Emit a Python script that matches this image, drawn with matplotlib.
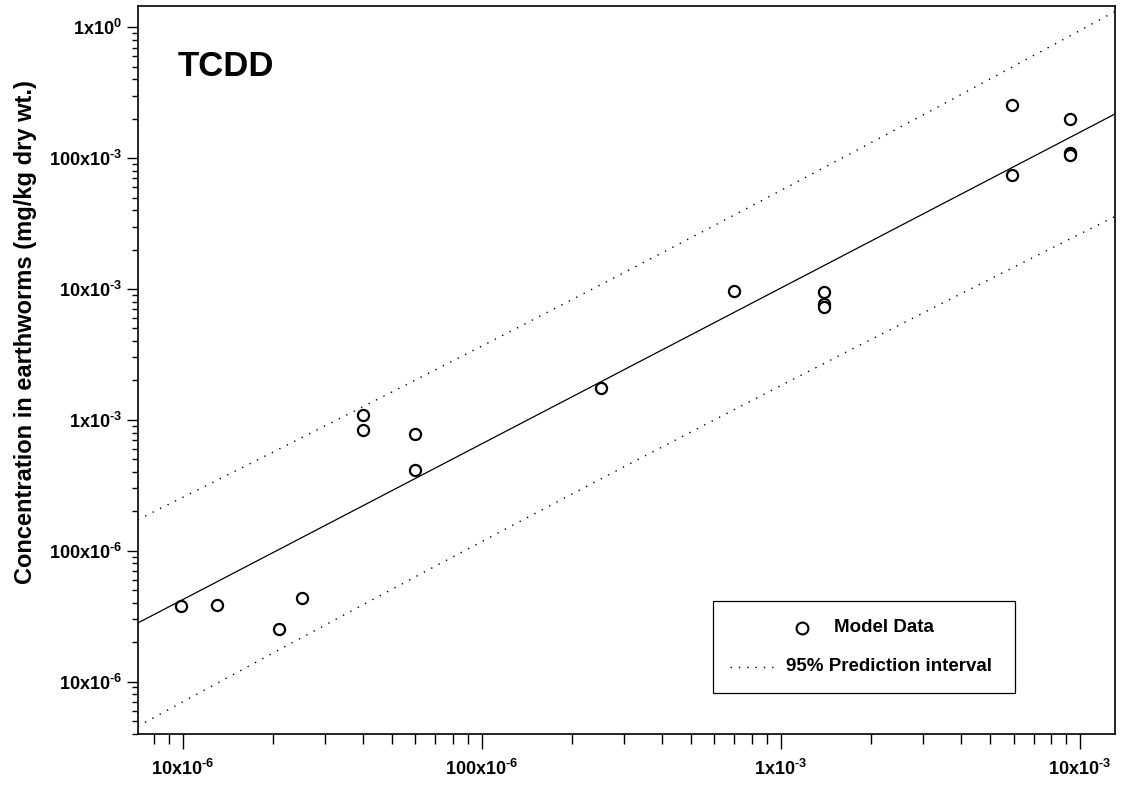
"""
TCDD: concentration in earthworms vs soil, log-log with regression and 95% prediction interval
"""
import numpy as np
import matplotlib
matplotlib.use("Agg")
import matplotlib.pyplot as plt
from matplotlib.patches import Rectangle
from matplotlib.lines import Line2D

# data (mg/kg dry wt.)
x_soil = [9.9e-6, 1.30e-5, 2.10e-5, 2.51e-5, 4.02e-5, 4.02e-5, 6.01e-5, 6.01e-5,
          2.51e-4, 7.0e-4, 1.40e-3, 1.40e-3, 1.40e-3, 5.91e-3, 5.91e-3,
          9.27e-3, 9.27e-3, 9.27e-3]
y_worm = [3.77e-5, 3.87e-5, 2.54e-5, 4.38e-5, 1.09e-3, 8.38e-4, 7.78e-4, 4.14e-4,
          1.74e-3, 9.73e-3, 9.45e-3, 7.69e-3, 7.26e-3, 0.253, 0.0748,
          0.1995, 0.110, 0.105]

x_ticks = [1e-5, 1e-4, 1e-3, 1e-2]
x_tick_labels = ["10x10$^{\\mathbf{\u20106}}$", "100x10$^{\\mathbf{\u20106}}$",
                 "1x10$^{\\mathbf{\u20103}}$", "10x10$^{\\mathbf{\u20103}}$"]
y_ticks = [1e-5, 1e-4, 1e-3, 1e-2, 1e-1, 1e0]
y_tick_labels = ["10x10$^{\\mathbf{\u20106}}$", "100x10$^{\\mathbf{\u20106}}$",
                 "1x10$^{\\mathbf{\u20103}}$", "10x10$^{\\mathbf{\u20103}}$",
                 "100x10$^{\\mathbf{\u20103}}$", "1x10$^{\\mathbf{0}}$"]

x_lim = (7.08e-6, 1.31e-2)
y_lim = (3.95e-6, 1.456)
# width multiplier of the prediction band (matched to the reference band)
pi_mult = 2.0

plt.rcParams['font.family'] = ['Liberation Sans', 'DejaVu Sans']
plt.rcParams['font.weight'] = 'bold'
plt.rcParams['mathtext.fontset'] = 'custom'
plt.rcParams['mathtext.rm'] = 'Liberation Sans:bold'
plt.rcParams['mathtext.bf'] = 'Liberation Sans:bold'


def fit_with_pi(x, y, xs):
    lx, ly = np.log10(x), np.log10(y)
    n = len(lx)
    b, a = np.polyfit(lx, ly, 1)
    resid = ly - (a + b * lx)
    s = np.sqrt(np.sum(resid ** 2) / (n - 2))
    sxx = np.sum((lx - lx.mean()) ** 2)
    lxs = np.log10(xs)
    yhat = a + b * lxs
    half = pi_mult * s * np.sqrt(1 + 1 / n + (lxs - lx.mean()) ** 2 / sxx)
    return 10 ** yhat, 10 ** (yhat - half), 10 ** (yhat + half)


fig = plt.figure(figsize=(11.21, 7.85), dpi=100)
ax = fig.add_axes([0.1228, 0.0646, 0.8718, 0.9278])

xs = np.logspace(np.log10(x_lim[0]), np.log10(x_lim[1]), 200)
yhat, lo, hi = fit_with_pi(np.array(x_soil), np.array(y_worm), xs)

ax.plot(xs, yhat, color='black', lw=0.9)
dots = (0, (1, 5))
ax.plot(xs, lo, color='black', lw=1.0, linestyle=dots)
ax.plot(xs, hi, color='black', lw=1.0, linestyle=dots)
ax.plot(x_soil, y_worm, 'o', ms=8, mfc='white', mec='black', mew=1.6, zorder=3)

ax.set_xscale('log')
ax.set_yscale('log')
ax.set_xlim(*x_lim)
ax.set_ylim(*y_lim)
ax.set_xticks(x_ticks)
ax.set_xticklabels(x_tick_labels)
ax.set_yticks(y_ticks)
ax.set_yticklabels(y_tick_labels)

ax.tick_params(axis='both', which='both', direction='out', width=1,
               top=False, right=False, labelsize=13)
ax.tick_params(axis='x', which='major', length=11, pad=7)
ax.tick_params(axis='x', which='minor', length=7)
ax.tick_params(axis='y', which='major', length=8, pad=3.5)
ax.tick_params(axis='y', which='minor', length=4.5)
for sp in ax.spines.values():
    sp.set_linewidth(1.2)

ax.set_ylabel('Concentration in earthworms (mg/kg dry wt.)', fontsize=17, fontweight='bold')
ax.yaxis.set_label_coords(-0.103, 0.5517)

ax.text(0.0412, 0.904, 'TCDD', transform=ax.transAxes, fontsize=25,
        fontweight='bold', va='baseline', ha='left')

# legend box
ax.add_patch(Rectangle((0.589, 0.0563), 0.3087, 0.1271, transform=ax.transAxes,
                       fill=False, edgecolor='black', lw=0.9, zorder=4))
ax.add_line(Line2D([0.6794], [0.146], marker='o', ms=8.5, mfc='white', mec='black',
                   mew=1.5, transform=ax.transAxes, zorder=5))
ax.text(0.7125, 0.146, 'Model Data', transform=ax.transAxes, fontsize=13.5,
        fontweight='bold', va='center', ha='left')
ax.add_line(Line2D([0.606, 0.650], [0.0928, 0.0928], color='black', lw=1.0,
                   linestyle=dots, transform=ax.transAxes, zorder=5))
ax.text(0.6634, 0.0928, '95% Prediction interval', transform=ax.transAxes,
        fontsize=13.5, fontweight='bold', va='center', ha='left')

fig.savefig('out.png', dpi=100)
